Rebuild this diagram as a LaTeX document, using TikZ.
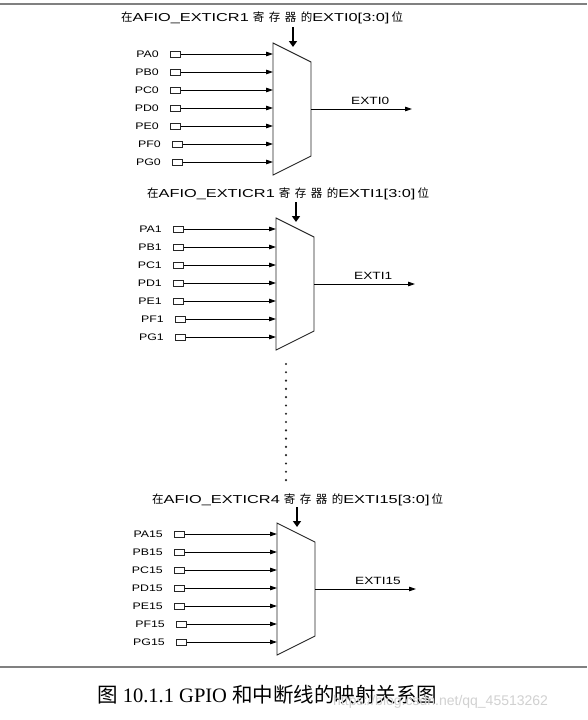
\documentclass[tikz,border=0pt]{standalone}
\usepackage{fontspec}
\setmainfont{Liberation Serif}
\newfontfamily\lat[FakeStretch=1.3]{Liberation Sans}
\newfontfamily\hlat[FakeStretch=1.42]{Liberation Sans}
\newfontfamily\cjk{Noto Sans CJK SC}
\newfontfamily\wmfont{Liberation Sans}
\usetikzlibrary{arrows.meta}

\newcommand\hdrtext[2]{{\cjk 在}{\hlat AFIO\_EXTICR#1}\hspace{4pt}{\cjk 寄\hspace{4.5pt}存\hspace{4.5pt}器\hspace{4.5pt}的}{\hlat EXTI#2[3:0]}\hspace{2pt}{\cjk 位}}

\tikzset{
  mux/.style={draw=black!85, line width=0.9pt, line join=miter},
  pinbox/.style={draw=black!85, line width=0.8pt, rectangle, minimum width=10pt, minimum height=6pt, inner sep=0pt},
  lbl/.style={font=\lat\fontsize{9.5}{11}\selectfont, inner sep=0pt, text=black},
  extlbl/.style={font=\lat\fontsize{10.5}{12}\selectfont, inner sep=0pt, text=black},
  hdr/.style={font=\fontsize{11.5}{13}\selectfont, inner sep=0pt, text=black},
  inarrow/.style={draw=black, line width=0.8pt, -{Triangle[length=7pt,width=4.5pt]}},
  outarrow/.style={draw=black, line width=0.8pt, -{Triangle[length=7pt,width=4.5pt]}},
  selarrow/.style={draw=black, line width=2.2pt, -{Triangle[length=6pt,width=8pt]}},
  sep/.style={draw=black!50, line width=1.2pt},
  caption/.style={font=\fontsize{20.5}{24}\selectfont, inner sep=0pt},
  wm/.style={font=\wmfont\fontsize{14}{16}\selectfont, inner sep=0pt, text=black!18}
}

\newcommand\muxblk[4]{%
\begin{scope}[shift={(#2,#3)}]
  \coordinate (#1tl) at (0,0);
  \coordinate (#1tr) at (38,19);
  \coordinate (#1br) at (38,113);
  \coordinate (#1bl) at (0,132);
  \draw[mux] (#1tl) -- (#1tr) -- (#1br) -- (#1bl) -- cycle;
  \foreach \p [count=\i from 0] in {A,B,C,D,E,F,G} {
    \pgfmathsetmacro\yy{11+18*\i}
    \pgfmathsetmacro\bx{\i>4 ? -101 : -103}
    \node[pinbox, anchor=west] (#1box\p) at (\bx,\yy) {};
    \node[lbl, anchor=base east] (#1lbl\p) at ([xshift=-11pt,yshift=-3.3pt]#1box\p.west) {P\p#4};
    \coordinate (#1in\p) at (0,\yy);
    \draw[inarrow] (#1box\p.east) -- (#1in\p);
  }
  \coordinate (#1selS) at (20,-16);
  \coordinate (#1selE) at (20,4);
  \draw[selarrow] (#1selS) -- (#1selE);
  \coordinate (#1o) at (38,66);
  \coordinate (#1oe) at (139,66);
  \draw[outarrow] (#1o) -- (#1oe);
  \node[extlbl, anchor=base west] (#1ext) at ([xshift=40pt,yshift=5pt]#1o) {EXTI#4};
\end{scope}}

\begin{document}
\begin{tikzpicture}[x=1pt,y=-1pt]
  \fill[white] (0,0) rectangle (587,720);
  \useasboundingbox (0,0) rectangle (587,720);
  \coordinate (st0) at (0,4);
  \coordinate (st1) at (587,4);
  \draw[sep] (st0) -- (st1);
  \coordinate (sb0) at (0,667);
  \coordinate (sb1) at (587,667);
  \draw[sep] (sb0) -- (sb1);

  \node[hdr, anchor=base west] (h1) at (121,21) {\hdrtext{1}{0}};
  \node[hdr, anchor=base west] (h2) at (147,197) {\hdrtext{1}{1}};
  \node[hdr, anchor=base west] (h3) at (152,503) {\hdrtext{4}{15}};

  \muxblk{a}{273}{43}{0}
  \muxblk{b}{276}{218}{1}
  \muxblk{c}{277}{523}{15}

  \foreach \k in {0,...,14} \fill[black!85] (286,364+8.29*\k) circle[radius=1.2pt];

  \node[caption, anchor=base west] (cap) at (97,702) {{\cjk 图} 10.1.1 GPIO {\cjk 和中断线的映射关系图}};
  \node[wm, anchor=base west] (wm) at (333,705) {https://blog.csdn.net/qq\_45513262};
\end{tikzpicture}
\end{document}
